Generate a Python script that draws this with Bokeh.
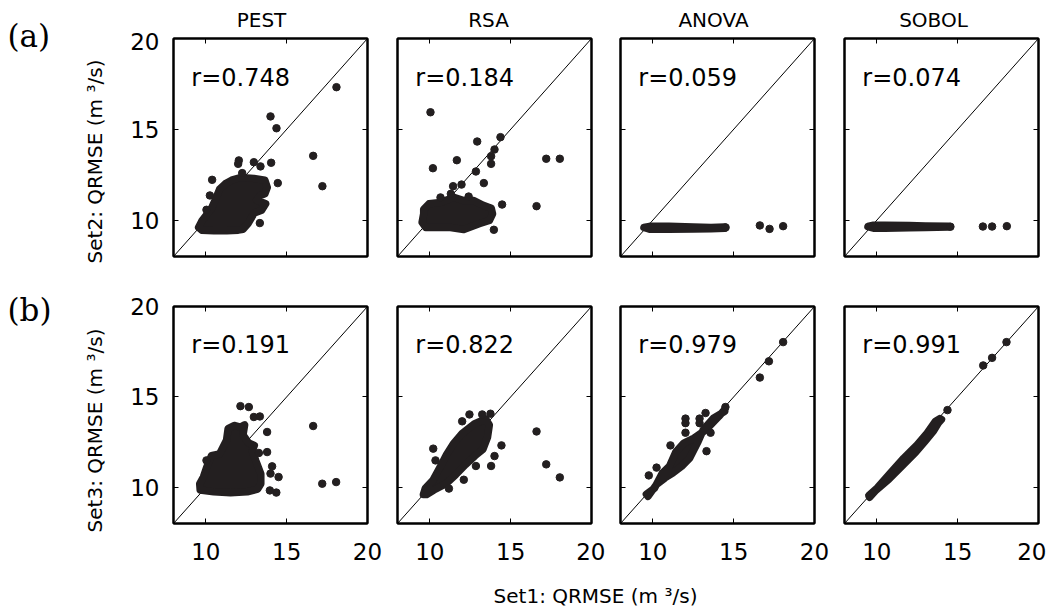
import math
from bokeh.plotting import figure
from bokeh.models import Range1d, Label, LinearAxis, FixedTicker
from bokeh.layouts import column, row
from bokeh.embed import file_html
from bokeh.resources import INLINE

# ---------------- data ----------------
methods = ["PEST", "RSA", "ANOVA", "SOBOL"]
r_set2 = ["0.748", "0.184", "0.059", "0.074"]
r_set3 = ["0.191", "0.822", "0.979", "0.991"]
axis_range = [8, 20]
ticks = [10, 15, 20]
row_labels = ["(a)", "(b)"]
y_titles = ["Set2: QRMSE (m \u00b3/s)", "Set3: QRMSE (m \u00b3/s)"]
x_title = "Set1: QRMSE (m \u00b3/s)"

# Each panel: outline of the dense core of overlapping dots (dot centres) + separate dots
# Set2 vs Set1 -- PEST
pest2_core_x = [9.55, 9.75, 10.05, 10.35, 10.6, 10.85, 11.2, 11.6, 12.15, 12.97, 13.65, 13.8, 13.65, 13.35, 13.15, 13.7, 13.45, 13.0, 12.6, 12.3, 12.0, 11.3, 10.5, 9.75]
pest2_core_y = [9.6, 9.95, 10.3, 10.65, 11.15, 11.7, 12.0, 12.2, 12.35, 12.3, 12.2, 11.8, 11.45, 11.35, 11.1, 10.9, 10.55, 10.4, 9.8, 9.5, 9.45, 9.42, 9.42, 9.45]
pest2_x = [18.08, 14.0, 14.37, 16.64, 17.21, 12.04, 12.0, 12.97, 13.38, 14.04, 14.45, 10.39, 10.25, 10.04, 13.34, 12.25]
pest2_y = [17.32, 15.71, 15.06, 13.54, 11.87, 13.29, 13.1, 13.19, 12.96, 13.16, 12.04, 12.22, 11.36, 10.57, 9.84, 12.59]

# Set2 vs Set1 -- RSA
rsa2_core_x = [9.62, 9.95, 10.66, 11.48, 12.1, 12.72, 13.3, 13.8, 13.88, 13.68, 13.05, 12.1, 11.28, 10.45, 9.75, 9.52, 9.62]
rsa2_core_y = [10.6, 10.9, 10.98, 11.25, 11.08, 11.08, 10.82, 10.65, 10.35, 9.98, 9.8, 9.48, 9.6, 9.6, 9.6, 9.88, 10.35]
rsa2_x = [10.04, 10.19, 12.93, 14.37, 14.0, 13.79, 13.79, 12.85, 11.67, 13.34, 11.96, 11.44, 17.2, 18.04, 16.6, 14.47, 13.96, 10.66, 11.3, 12.4]
rsa2_y = [15.94, 12.86, 14.33, 14.57, 13.89, 13.52, 13.1, 12.68, 13.3, 12.04, 11.96, 11.87, 13.38, 13.38, 10.77, 10.86, 9.47, 11.25, 11.45, 11.3]

# Set2 vs Set1 -- ANOVA
anova2_core_x = [9.45, 9.8, 11.0, 12.5, 13.6, 14.45, 14.45, 13.6, 12.5, 11.0, 9.8]
anova2_core_y = [9.6, 9.66, 9.66, 9.62, 9.6, 9.62, 9.55, 9.53, 9.52, 9.5, 9.5]
anova2_x = [16.62, 17.22, 18.06, 14.5]
anova2_y = [9.71, 9.52, 9.67, 9.6]

# Set2 vs Set1 -- SOBOL
sobol2_core_x = [9.45, 9.8, 10.5, 12.0, 13.0, 14.45, 14.45, 13.0, 12.0, 10.5, 9.8]
sobol2_core_y = [9.65, 9.72, 9.72, 9.7, 9.68, 9.67, 9.62, 9.6, 9.58, 9.56, 9.56]
sobol2_x = [16.56, 17.13, 18.04, 14.55]
sobol2_y = [9.65, 9.65, 9.67, 9.64]

# Set3 vs Set1 -- PEST
pest3_core_x = [9.65, 9.62, 9.85, 10.05, 10.35, 10.85, 11.28, 11.38, 11.75, 12.14, 12.4, 12.3, 12.65, 13.0, 12.88, 13.1, 13.4, 13.4, 13.2, 12.56, 11.53, 10.49]
pest3_core_y = [9.85, 10.2, 10.57, 11.1, 11.75, 11.85, 12.6, 13.25, 13.42, 13.33, 13.45, 12.9, 12.45, 12.32, 12.0, 11.45, 10.75, 10.2, 9.9, 9.75, 9.7, 9.75]
pest3_x = [12.14, 12.66, 16.64, 17.2, 18.06, 12.97, 13.34, 13.79, 14.5, 14.36, 13.96, 10.04, 13.28, 13.79, 14.1, 14.0]
pest3_y = [14.49, 14.44, 13.39, 10.2, 10.29, 13.89, 13.92, 13.06, 10.57, 9.71, 9.83, 11.49, 11.9, 11.95, 11.16, 10.76]

# Set3 vs Set1 -- RSA
rsa3_core_x = [9.6, 9.72, 10.2, 10.62, 11.03, 11.45, 12.0, 12.75, 13.45, 13.68, 13.57, 13.28, 12.8, 12.2, 11.6, 11.0, 10.25, 9.8]
rsa3_core_y = [9.6, 9.95, 10.4, 11.1, 11.8, 12.4, 12.98, 13.5, 13.78, 13.45, 12.78, 12.1, 11.75, 11.25, 10.7, 10.2, 9.85, 9.6]
rsa3_x = [16.6, 17.2, 18.04, 10.21, 12.45, 13.24, 13.75, 14.43, 14.0, 13.79, 12.85, 12.0, 10.35, 12.1, 11.18]
rsa3_y = [13.09, 11.27, 10.55, 12.14, 14.03, 14.03, 14.07, 12.32, 11.73, 11.18, 11.18, 13.65, 11.49, 10.42, 9.93]

# Set3 vs Set1 -- ANOVA
anova3_core_x = [9.6, 10.1, 10.6, 11.03, 11.42, 11.92, 12.55, 13.28, 14.08, 14.45, 14.45, 13.75, 13.12, 12.8, 12.28, 11.78, 11.25, 10.75, 10.22, 9.7]
anova3_core_y = [9.62, 9.95, 10.8, 11.17, 11.95, 12.45, 12.72, 13.18, 13.92, 14.3, 14.2, 13.82, 13.18, 12.53, 11.62, 11.16, 10.8, 10.52, 10.15, 9.5]
anova3_x = [18.06, 17.18, 16.62, 14.49, 13.26, 12.89, 12.89, 12.02, 12.02, 12.02, 11.09, 10.23, 9.75, 13.32, 13.57]
anova3_y = [18.03, 16.97, 16.07, 14.44, 14.11, 13.8, 13.55, 13.8, 13.55, 13.02, 12.32, 11.09, 10.66, 12.0, 13.02]

# Set3 vs Set1 -- SOBOL
sobol3_core_x = [9.5, 10.02, 10.84, 11.67, 12.49, 13.11, 13.62, 13.9, 14.0, 13.82, 13.51, 12.99, 12.38, 11.55, 10.73, 9.9, 9.55]
sobol3_core_y = [9.55, 9.96, 10.79, 11.62, 12.35, 13.0, 13.64, 13.8, 13.75, 13.58, 13.12, 12.56, 11.92, 11.18, 10.44, 9.8, 9.45]
sobol3_x = [14.37, 18.02, 17.13, 16.58]
sobol3_y = [14.27, 18.03, 17.16, 16.74]

panels = [
    [(pest2_core_x, pest2_core_y, pest2_x, pest2_y),
     (rsa2_core_x, rsa2_core_y, rsa2_x, rsa2_y),
     (anova2_core_x, anova2_core_y, anova2_x, anova2_y),
     (sobol2_core_x, sobol2_core_y, sobol2_x, sobol2_y)],
    [(pest3_core_x, pest3_core_y, pest3_x, pest3_y),
     (rsa3_core_x, rsa3_core_y, rsa3_x, rsa3_y),
     (anova3_core_x, anova3_core_y, anova3_x, anova3_y),
     (sobol3_core_x, sobol3_core_y, sobol3_x, sobol3_y)],
]
r_values = [r_set2, r_set3]

# ---------------- styling / layout ----------------
INK = "#231f20"
FONT = "DejaVu Sans"
SERIF = "DejaVu Serif"
DOT = 7.5

LEFT_W = 118
col_borders = [(55, 15), (15, 14), (15, 15), (15, 8)]
row_borders = [(6, 25), (25, 48)]
frame_heights = [218, 217]
TITLE_H = 32
XLAB_H = 43
RIGHT_W = sum(b[0] + 194 + b[1] for b in col_borders)
TOTAL_H = TITLE_H + sum(rb[0] + fh + rb[1] for rb, fh in zip(row_borders, frame_heights)) + XLAB_H


def text_strip(w, h):
    f = figure(title=None, width=w, height=h, x_range=Range1d(0, w), y_range=Range1d(0, h),
               x_axis_location=None, y_axis_location=None, toolbar_location=None,
               output_backend="svg", min_border=0, outline_line_color=None)
    f.grid.grid_line_color = None
    return f


def make_panel(ri, ci):
    core_x, core_y, pts_x, pts_y = panels[ri][ci]
    bl, br = col_borders[ci]
    bt, bb = row_borders[ri]
    p = figure(title=None, frame_width=194, frame_height=frame_heights[ri],
               x_range=Range1d(*axis_range), y_range=Range1d(*axis_range),
               x_axis_location=None, y_axis_location=None,
               toolbar_location=None, output_backend="svg",
               min_border_left=bl, min_border_right=br,
               min_border_top=bt, min_border_bottom=bb)
    p.grid.grid_line_color = None
    p.outline_line_color = "black"
    p.outline_line_width = 2

    for side in ["left", "right", "above", "below"]:
        ax = LinearAxis(ticker=FixedTicker(ticks=ticks))
        ax.major_tick_in = 5
        ax.major_tick_out = 0
        ax.minor_tick_in = 0
        ax.minor_tick_out = 0
        ax.axis_line_color = "black"
        ax.axis_line_width = 2
        ax.major_tick_line_color = "black"
        ax.major_tick_line_width = 1
        show = (side == "left" and ci == 0) or (side == "below" and ri == 1)
        if show:
            ax.major_label_text_font = FONT
            ax.major_label_text_font_size = "23px"
            ax.major_label_text_color = "black"
            ax.major_label_standoff = 14 if side == "left" else 19
        else:
            ax.major_label_overrides = {t: "" for t in ticks}
            ax.major_label_text_font_size = "1px"
            ax.major_label_standoff = 0
        p.add_layout(ax, side)

    p.line(axis_range, axis_range, line_color="black", line_width=1)
    p.patch(core_x, core_y, fill_color=INK, line_color=INK, line_width=DOT,
            line_join="round")
    p.scatter(pts_x, pts_y, size=DOT, fill_color=INK, line_color=INK)

    p.add_layout(Label(x=9.1, y=17.85, text="r=" + r_values[ri][ci],
                       text_font=FONT, text_font_size="24px",
                       text_baseline="alphabetic", text_color="black"))
    return p


# left strip: panel letters and y-axis titles
left = text_strip(LEFT_W, TOTAL_H)
for i, (lab_y, title_y) in enumerate([(TOTAL_H - 35.5, TOTAL_H - 161), (TOTAL_H - 309.5, TOTAL_H - 430)]):
    left.add_layout(Label(x=7, y=lab_y, text=row_labels[i], text_font=SERIF,
                          text_font_size="31px", text_baseline="alphabetic",
                          text_color="black"))
    left.add_layout(Label(x=94, y=title_y, text=y_titles[i], angle=math.pi / 2,
                          text_align="center", text_baseline="middle",
                          text_font=FONT, text_font_size="20px", text_color="black"))

# title strip: method names
tstrip = text_strip(RIGHT_W, TITLE_H)
title_centres = [261, 488, 713, 933]
for name, cx in zip(methods, title_centres):
    tstrip.add_layout(Label(x=cx - LEFT_W, y=TITLE_H - 27 + 7.5, text=name, text_align="center",
                            text_baseline="alphabetic", text_font=FONT,
                            text_font_size="20px", text_color="black"))

# x title strip
xstrip = text_strip(RIGHT_W, XLAB_H)
xstrip.add_layout(Label(x=595 - LEFT_W, y=TOTAL_H - 603 + 7.5, text=x_title, text_align="center",
                        text_baseline="alphabetic", text_font=FONT,
                        text_font_size="20px", text_color="black"))

rows = [row(*[make_panel(ri, ci) for ci in range(4)]) for ri in range(2)]
layout = row(left, column(tstrip, rows[0], rows[1], xstrip))
open("out.html", "w").write(file_html(layout, INLINE))
